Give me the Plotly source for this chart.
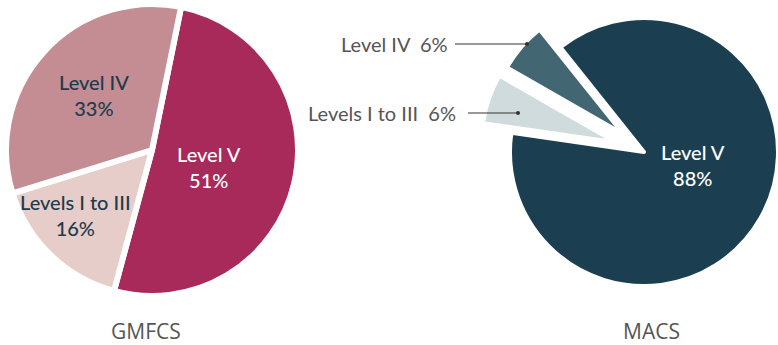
import math
import plotly.graph_objects as go

W, H = 778, 345

# ---- data ----
gm_labels = ["Level V", "Levels I to III", "Level IV"]
gm_values = [51, 16, 33]
gm_colors = ["#A72A5A", "#E7CDC9", "#C38D93"]
gm_text_colors = ["#FFFFFF", "#1E3B4C", "#1E3B4C"]

macs_labels = ["Level V", "Levels I to III", "Level IV"]
macs_values = [88, 6, 6]
macs_colors = ["#1B3F51", "#CFDBDD", "#436673"]
macs_pull_px = [0, 30, 27.5]

chart_titles = ["GMFCS", "MACS"]

FONT = "Lato"


def px_domain(cx, cy, r):
    x0, x1 = (cx - r) / W, (cx + r) / W
    y0, y1 = (H - (cy + r)) / H, (H - (cy - r)) / H
    clamp = lambda v: min(1.0, max(0.0, v))
    return dict(x=[clamp(x0), clamp(x1)], y=[clamp(y0), clamp(y1)])


def px_x(x):
    return x / W


def px_y(y):
    return 1 - y / H


fig = go.Figure()

# ---- GMFCS pie ----
fig.add_trace(go.Pie(
    labels=gm_labels, values=gm_values, sort=False, direction="clockwise",
    rotation=11.5,
    marker=dict(colors=gm_colors, line=dict(color="white", width=6)),
    textinfo="none", hoverinfo="label+percent", showlegend=False,
    domain=px_domain(152, 150, 146),
))

# ---- MACS pie (each slice its own trace so pulled slices keep full radius) ----
m_cx, m_cy, m_r = 644, 152, 134
m_rot = -38.6
total = sum(macs_values)
cum = 0
for i, v in enumerate(macs_values):
    start = m_rot + cum / total * 360
    mid = math.radians(start + v / total * 180)
    cum += v
    d = macs_pull_px[i]
    cx = m_cx + d * math.sin(mid)
    cy = max(m_r, m_cy - d * math.cos(mid))
    cols = [c if j == i else "rgba(0,0,0,0)" for j, c in enumerate(macs_colors)]
    widths = [4 if j == i else 0 for j in range(len(macs_values))]
    fig.add_trace(go.Pie(
        labels=macs_labels, values=macs_values, sort=False, direction="clockwise",
        rotation=m_rot,
        marker=dict(colors=cols, line=dict(color="white", width=widths)),
        textinfo="none", hoverinfo="skip", showlegend=False,
        domain=px_domain(cx, cy, m_r),
    ))

annotations = []
# inner labels GMFCS
gm_label_pos = [(209, 167), (75, 215), (94, 95)]
for lab, val, col, (x, y) in zip(gm_labels, gm_values, gm_text_colors, gm_label_pos):
    annotations.append(dict(
        x=px_x(x), y=px_y(y), xref="paper", yref="paper", showarrow=False,
        text=f"{lab}<br>{val}%", font=dict(family=FONT, size=20, color=col, weight=500),
        xanchor="center", yanchor="middle", align="center"))

# inner label MACS Level V
annotations.append(dict(
    x=px_x(693), y=px_y(165), xref="paper", yref="paper", showarrow=False,
    text=f"{macs_labels[0]}<br>{macs_values[0]}%",
    font=dict(family=FONT, size=20, color="#FFFFFF", weight=500),
    xanchor="center", yanchor="middle", align="center"))

# outer callout labels MACS
callouts = [(1, 518, 113, 468, 12), (2, 527, 44, 455, 7)]
for idx, hx, hy, tx, pad in callouts:
    annotations.append(dict(
        x=px_x(hx), y=px_y(hy), xref="paper", yref="paper",
        text=f"{macs_labels[idx]}\u00a0\u00a0{macs_values[idx]}%",
        font=dict(family=FONT, size=20, color="#555555"),
        showarrow=True, arrowhead=6, arrowsize=1, arrowwidth=1, arrowcolor="#333333",
        ax=tx - hx, ay=0, xanchor="right", yanchor="middle",
        borderpad=pad, borderwidth=0))

# titles
for t, x in zip(chart_titles, [146, 651]):
    annotations.append(dict(
        x=px_x(x), y=0, xref="paper", yref="paper", showarrow=False,
        text=t, font=dict(family="Open Sans", size=21, color="#555555"),
        xanchor="center", yanchor="bottom", borderpad=0, borderwidth=0))

fig.update_layout(
    width=W, height=H, margin=dict(l=0, r=0, t=0, b=0),
    paper_bgcolor="white", plot_bgcolor="white",
    annotations=annotations, showlegend=False,
)

fig.write_html("out.html")
